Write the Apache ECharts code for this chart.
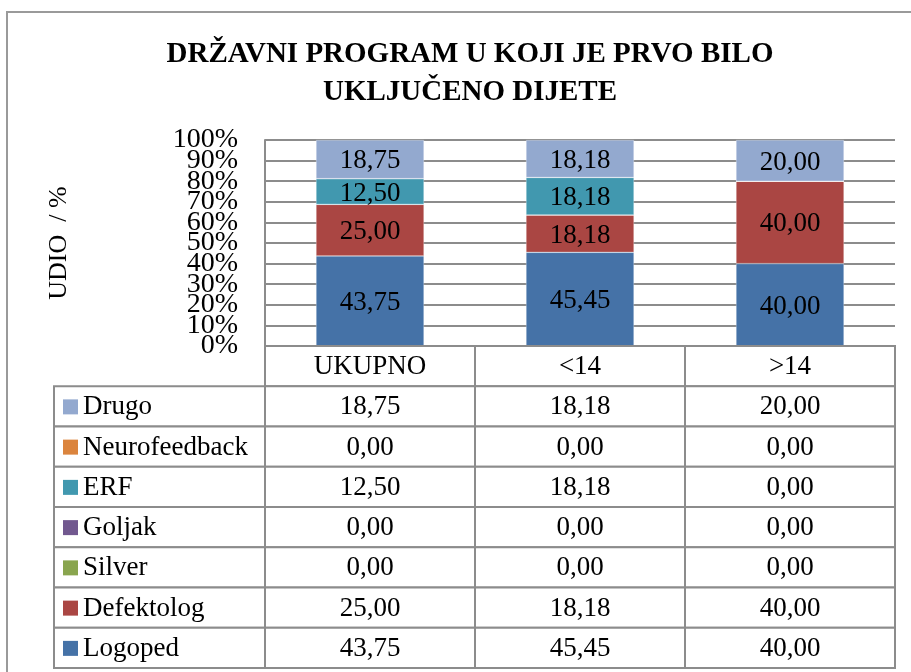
<!DOCTYPE html>
<html>
<head>
<meta charset="utf-8">
<script src="https://cdn.jsdelivr.net/npm/echarts@6/dist/echarts.min.js"></script>
<style>html,body{margin:0;padding:0;background:#fff;}#c{width:911px;height:672px;}</style>
</head>
<body>
<div id="c"></div>
<script>
const categories = ['UKUPNO', '<14', '>14'];
const seriesNames = ['Logoped', 'Defektolog', 'Silver', 'Goljak', 'ERF', 'Neurofeedback', 'Drugo'];
const logoped = [43.75, 45.45, 40.00];
const defektolog = [25.00, 18.18, 40.00];
const silver = [0.00, 0.00, 0.00];
const goljak = [0.00, 0.00, 0.00];
const erf = [12.50, 18.18, 0.00];
const neurofeedback = [0.00, 0.00, 0.00];
const drugo = [18.75, 18.18, 20.00];
const yTicks = [0, 10, 20, 30, 40, 50, 60, 70, 80, 90, 100];
const colors = ['#4572A7', '#AA4643', '#89A54E', '#71588F', '#4198AF', '#DB843D', '#93A9CF'];

const values = [logoped, defektolog, silver, goljak, erf, neurofeedback, drugo];
const FONT = 'Liberation Serif';
const LINE = '#8c8c8c';
const fmt = v => v.toFixed(2).replace('.', ',');

const tableRows = ['hdr'].concat(seriesNames.slice().reverse());
const cellData = [];
for (let c = 0; c < categories.length; c++) {
  cellData.push([c, 0, categories[c], -1]);
}
for (let r = 1; r < tableRows.length; r++) {
  const si = seriesNames.indexOf(tableRows[r]);
  for (let c = 0; c < categories.length; c++) {
    cellData.push([c, r, fmt(values[si][c]), -1]);
  }
  cellData.push([0, r, tableRows[r], si]);
}

const chart = echarts.init(document.getElementById('c'));
const barSeries = seriesNames.map((n, i) => ({
  name: n,
  type: 'bar',
  stack: 'total',
  xAxisIndex: 0,
  yAxisIndex: 0,
  barWidth: 108,
  data: values[i],
  itemStyle: { color: colors[i], borderColor: 'rgba(255,255,255,0.6)', borderWidth: 0.5 },
  label: {
    show: true,
    position: 'inside',
    offset: [0, 2],
    fontFamily: FONT,
    fontSize: 27,
    color: '#000',
    formatter: p => (p.value === 0 ? '' : fmt(p.value))
  }
}));

const tickLabelStyle = { fontFamily: FONT, fontSize: 28, color: '#000', margin: 27, padding: [5, 0, 0, 0] };

chart.setOption({
  animation: false,
  backgroundColor: '#fff',
  title: {
    text: 'DRŽAVNI PROGRAM U KOJI JE PRVO BILO\nUKLJUČENO DIJETE',
    left: 465,
    top: 31,
    textAlign: 'center',
    textStyle: { fontFamily: FONT, fontWeight: 'bold', fontSize: 29, lineHeight: 38, color: '#000' }
  },
  graphic: [{
    type: 'rect',
    shape: { x: 7, y: 12, width: 1000, height: 1000 },
    style: { fill: 'none', stroke: '#9a9a9a', lineWidth: 2 },
    silent: true, z: 0
  }],
  grid: [
    { left: 265, right: 16, top: 140, height: 206 },
    { left: 265, right: 16, top: 346, bottom: 4 }
  ],
  xAxis: [
    { gridIndex: 0, type: 'category', data: categories,
      axisLine: { show: true, lineStyle: { color: LINE, width: 2 } },
      axisTick: { show: false }, axisLabel: { show: false } },
    { gridIndex: 1, type: 'category', data: categories, show: false }
  ],
  yAxis: [
    { gridIndex: 0, type: 'value', min: 0, max: 100, interval: 10,
      name: 'UDIO  / %', nameLocation: 'middle', nameRotate: 90, nameGap: 193,
      nameTextStyle: { fontFamily: FONT, fontSize: 26, color: '#000' },
      axisLine: { show: true, lineStyle: { color: LINE, width: 2 } },
      axisTick: { show: false },
      splitLine: { show: true, lineStyle: { color: LINE, width: 2 } },
      axisLabel: Object.assign({ showMinLabel: false, showMaxLabel: false,
        formatter: v => (yTicks.indexOf(v) > 0 && v < 100 ? v + '%' : '') }, tickLabelStyle) },
    { gridIndex: 1, type: 'category', data: tableRows, inverse: true, show: false },
    { gridIndex: 0, type: 'value', min: 0, max: 100, interval: 100, position: 'left',
      axisLine: { show: false }, axisTick: { show: false }, splitLine: { show: false },
      axisLabel: Object.assign({ showMinLabel: true, showMaxLabel: true,
        formatter: v => v + '%' }, tickLabelStyle) }
  ],
  series: barSeries.concat([{
    type: 'custom',
    xAxisIndex: 1,
    yAxisIndex: 1,
    data: cellData,
    encode: { x: 0, y: 1 },
    z: 5,
    renderItem: (params, api) => {
      const c = api.value(0), r = api.value(1);
      const si = api.value(3);
      const text = cellData[params.dataIndex][2];
      const center = api.coord([c, r]);
      const size = api.size([1, 1]);
      const w = size[0], h = size[1];
      const cs = params.coordSys;
      if (si >= 0) {
        const x0 = 54, x1 = cs.x;
        const y0 = center[1] - h / 2;
        return { type: 'group', children: [
          { type: 'rect', shape: { x: x0, y: y0, width: x1 - x0, height: h },
            style: { fill: '#fff', stroke: LINE, lineWidth: 2 } },
          { type: 'rect', shape: { x: 63, y: center[1] - 7, width: 15, height: 15 },
            style: { fill: colors[si] } },
          { type: 'text', style: { x: 83, y: center[1] + 1, text: text, fontFamily: FONT, fontSize: 27,
            fill: '#000', textAlign: 'left', textVerticalAlign: 'middle' } }
        ] };
      }
      return { type: 'group', children: [
        { type: 'rect', shape: { x: center[0] - w / 2, y: center[1] - h / 2, width: w, height: h },
          style: { fill: '#fff', stroke: LINE, lineWidth: 2 } },
        { type: 'text', style: { x: center[0], y: center[1] + 1, text: text, fontFamily: FONT, fontSize: 27,
          fill: '#000', textAlign: 'center', textVerticalAlign: 'middle' } }
      ] };
    }
  }])
});
</script>
</body>
</html>
